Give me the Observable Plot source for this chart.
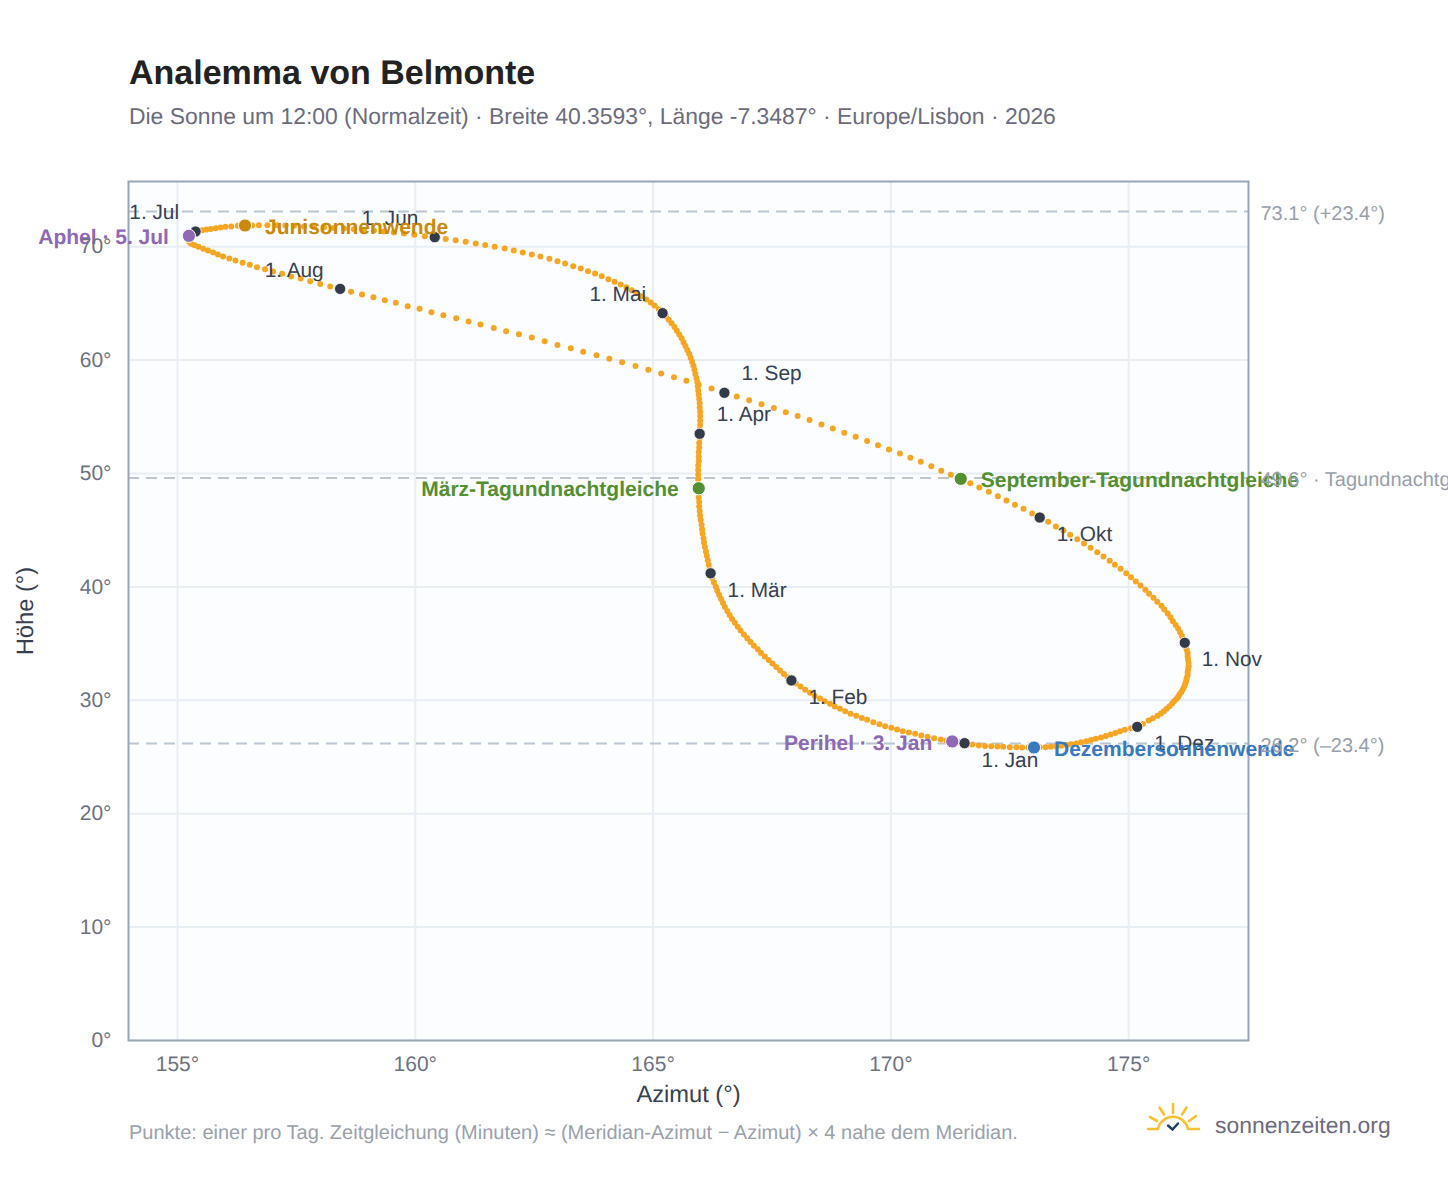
<!DOCTYPE html>
<html lang="de">
<head>
<meta charset="utf-8">
<title>Analemma von Belmonte</title>
<script src="https://cdn.jsdelivr.net/npm/d3@7"></script>
<script src="https://cdn.jsdelivr.net/npm/@observablehq/plot@0.6"></script>
<style>
  html,body{margin:0;padding:0;background:#fff;width:1448px;height:1188px;overflow:hidden;font-family:"Liberation Sans",Arial,sans-serif;text-rendering:geometricPrecision}
  #head{position:relative;height:150px}
  #title{position:absolute;left:129px;top:52px;font-size:34px;line-height:42px;font-weight:700;color:#222}
  #sub{position:absolute;left:129px;top:102px;font-size:22.9px;line-height:28px;color:#6c6c7e}
  #foot{position:absolute;left:0;top:0;width:1448px;height:1188px;pointer-events:none}
  #cap{position:absolute;left:129px;top:1122px;font-size:20px;line-height:22px;color:#9aa1ab}
  #brand{position:absolute;left:1215px;top:1111px;font-size:22.9px;line-height:28px;color:#6c6c7e}
  #logo{position:absolute;left:1140px;top:1098px}
  #chart svg{display:block;text-rendering:geometricPrecision}
</style>
</head>
<body>
<div id="head"><div id="title">Analemma von Belmonte</div><div id="sub">Die Sonne um 12:00 (Normalzeit) · Breite 40.3593°, Länge -7.3487° · Europe/Lisbon · 2026</div></div>
<div id="chart"></div>
<div id="foot">
  <div id="cap">Punkte: einer pro Tag. Zeitgleichung (Minuten) ≈ (Meridian-Azimut − Azimut) × 4 nahe dem Meridian.</div>
  <svg id="logo" width="66" height="40" viewBox="0 0 66 40" fill="none" stroke-linecap="round">
    <g stroke="#f6c232" stroke-width="2.6">
      <path d="M8 31H18M48 31H59M18 31A15.3 15.3 0 0 1 48 31"/>
      <path d="M33 6V15M19.5 9.5L24 16.5M46.5 9.5L42 16.5M10 19L17 23M56 18L49 23"/>
    </g>
    <path d="M28 27.5L32.5 31.5L38 25.5" stroke="#1f3f5f" stroke-width="2.4"/>
  </svg>
  <div id="brand">sonnenzeiten.org</div>
</div>
<script>
// Daily solar position at 12:00 (azimuth °, altitude °)
const azJan=[171.55,171.42,171.29,171.17,171.05,170.91,170.77,170.64,170.51,170.38,170.25,170.13,170.01,169.88,169.76,169.63,169.50,169.39,169.27,169.15,169.04,168.93,168.82,168.72,168.61,168.51,168.40,168.30,168.20,168.10,168.00];
const altJan=[26.22,26.31,26.37,26.45,26.54,26.66,26.78,26.89,27.04,27.16,27.28,27.42,27.57,27.72,27.89,28.07,28.28,28.45,28.63,28.81,29.04,29.25,29.45,29.69,29.92,30.16,30.39,30.66,30.92,31.22,31.48];
const azFeb=[167.91,167.83,167.75,167.67,167.59,167.51,167.43,167.35,167.27,167.20,167.12,167.05,166.98,166.91,166.84,166.78,166.72,166.66,166.61,166.56,166.51,166.47,166.43,166.39,166.35,166.32,166.28,166.24];
const altFeb=[31.75,32.04,32.33,32.63,32.93,33.24,33.55,33.86,34.18,34.50,34.82,35.15,35.48,35.81,36.15,36.49,36.83,37.17,37.52,37.87,38.22,38.57,38.93,39.29,39.65,40.01,40.38,40.79];
const azMar=[166.21,166.19,166.17,166.15,166.13,166.11,166.09,166.07,166.06,166.04,166.03,166.02,166.00,165.99,165.98,165.97,165.97,165.96,165.96,165.96,165.95,165.95,165.95,165.95,165.95,165.96,165.96,165.96,165.97,165.97,165.98];
const altMar=[41.20,41.58,41.96,42.35,42.74,43.13,43.52,43.91,44.30,44.70,45.09,45.49,45.89,46.29,46.69,47.09,47.49,47.89,48.30,48.70,49.10,49.50,49.90,50.30,50.70,51.10,51.50,51.90,52.30,52.70,53.10];
const azApr=[165.98,165.98,165.99,165.99,165.99,165.99,165.98,165.98,165.97,165.96,165.95,165.94,165.93,165.91,165.89,165.87,165.85,165.82,165.79,165.76,165.72,165.68,165.64,165.60,165.55,165.50,165.45,165.39,165.33,165.27];
const altApr=[53.50,53.89,54.28,54.67,55.06,55.44,55.82,56.20,56.58,56.95,57.32,57.69,58.06,58.42,58.78,59.14,59.50,59.85,60.20,60.55,60.90,61.24,61.58,61.92,62.26,62.59,62.92,63.24,63.56,63.85];
const azMai=[165.20,165.12,165.03,164.95,164.86,164.76,164.65,164.55,164.44,164.32,164.19,164.06,163.92,163.78,163.63,163.48,163.32,163.15,162.99,162.82,162.63,162.45,162.26,162.07,161.88,161.67,161.47,161.27,161.06,160.85,160.64];
const altMai=[64.14,64.49,64.81,65.08,65.34,65.64,65.90,66.17,66.43,66.67,66.90,67.14,67.40,67.64,67.84,68.08,68.28,68.52,68.72,68.93,69.13,69.31,69.49,69.66,69.84,69.99,70.16,70.28,70.43,70.58,70.69];
const azJun=[160.41,160.20,159.98,159.76,159.55,159.34,159.13,158.92,158.71,158.50,158.29,158.08,157.87,157.66,157.45,157.27,157.10,156.89,156.71,156.57,156.42,156.27,156.13,156.01,155.91,155.80,155.70,155.61,155.52,155.45];
const altJun=[70.84,70.93,71.05,71.16,71.25,71.34,71.43,71.49,71.55,71.60,71.66,71.72,71.75,71.78,71.84,71.87,71.90,71.90,71.90,71.87,71.87,71.84,71.78,71.75,71.69,71.63,71.57,71.52,71.46,71.40];
const azJul=[155.38,155.33,155.29,155.26,155.24,155.23,155.23,155.23,155.24,155.26,155.29,155.36,155.44,155.54,155.64,155.75,155.85,155.96,156.09,156.22,156.37,156.52,156.67,156.84,157.01,157.20,157.39,157.59,157.79,158.00,158.21];
const altJul=[71.34,71.25,71.16,71.08,70.96,70.84,70.72,70.60,70.49,70.37,70.25,70.13,69.99,69.81,69.66,69.49,69.31,69.13,68.96,68.78,68.58,68.40,68.19,68.02,67.81,67.61,67.37,67.19,66.96,66.72,66.49];
const azAug=[158.42,158.65,158.88,159.12,159.36,159.59,159.84,160.09,160.34,160.59,160.86,161.12,161.37,161.65,161.91,162.18,162.45,162.72,162.99,163.27,163.53,163.81,164.08,164.35,164.63,164.90,165.17,165.44,165.70,165.96,166.23];
const altAug=[66.28,66.02,65.78,65.55,65.28,65.05,64.75,64.52,64.22,63.96,63.70,63.40,63.14,62.84,62.55,62.28,61.99,61.67,61.34,61.05,60.73,60.43,60.11,59.81,59.49,59.14,58.82,58.49,58.17,57.82,57.50];
const azSep=[166.50,166.76,167.02,167.28,167.54,167.79,168.04,168.29,168.54,168.78,169.02,169.26,169.50,169.73,169.96,170.19,170.41,170.63,170.85,171.06,171.26,171.47,171.67,171.86,172.06,172.25,172.43,172.61,172.79,172.97];
const altSep=[57.12,56.79,56.47,56.10,55.77,55.40,55.07,54.72,54.32,53.97,53.59,53.24,52.86,52.50,52.12,51.77,51.39,51.03,50.65,50.24,49.89,49.53,49.15,48.77,48.39,48.00,47.62,47.24,46.89,46.48];
const azOkt=[173.13,173.31,173.47,173.63,173.77,173.92,174.06,174.20,174.34,174.47,174.60,174.71,174.83,174.95,175.05,175.15,175.25,175.35,175.43,175.52,175.60,175.69,175.75,175.82,175.88,175.93,175.99,176.04,176.08,176.12,176.15];
const altOkt=[46.12,45.74,45.33,44.97,44.59,44.21,43.83,43.45,43.06,42.68,42.30,41.95,41.59,41.21,40.86,40.48,40.12,39.74,39.39,39.04,38.68,38.33,38.01,37.65,37.33,36.98,36.65,36.33,36.01,35.68,35.36];
const azNov=[176.18,176.20,176.22,176.24,176.24,176.25,176.26,176.26,176.25,176.24,176.24,176.22,176.21,176.19,176.17,176.14,176.11,176.07,176.04,176.00,175.95,175.91,175.86,175.80,175.74,175.68,175.61,175.51,175.42,175.30];
const altNov=[35.07,34.74,34.45,34.15,33.86,33.57,33.30,33.01,32.74,32.48,32.21,31.95,31.71,31.45,31.21,30.98,30.74,30.54,30.30,30.10,29.89,29.69,29.48,29.25,29.04,28.83,28.63,28.42,28.22,27.92];
const azDez=[175.18,175.05,174.92,174.82,174.72,174.62,174.52,174.42,174.31,174.21,174.11,174.00,173.90,173.79,173.69,173.58,173.47,173.36,173.25,173.13,173.01,172.89,172.76,172.64,172.50,172.36,172.24,172.11,171.98,171.85,171.71];
const altDez=[27.66,27.53,27.40,27.26,27.12,26.98,26.85,26.72,26.60,26.49,26.39,26.29,26.20,26.12,26.05,25.99,25.94,25.90,25.87,25.85,25.84,25.84,25.84,25.87,25.87,25.90,25.92,25.95,25.98,26.01,26.10];

const monthNames=["Jan","Feb","Mär","Apr","Mai","Jun","Jul","Aug","Sep","Okt","Nov","Dez"];
const monthAz=[azJan,azFeb,azMar,azApr,azMai,azJun,azJul,azAug,azSep,azOkt,azNov,azDez];
const monthAlt=[altJan,altFeb,altMar,altApr,altMai,altJun,altJul,altAug,altSep,altOkt,altNov,altDez];
const monthLabelSpot=["se","se","se","ne","nw","nw","nw","nw","ne","se","se","se"];

const eventNames=["Junisonnenwende","März-Tagundnachtgleiche","September-Tagundnachtgleiche","Dezembersonnenwende","Perihel · 3. Jan","Aphel · 5. Jul"];
const eventMonth=[5,2,8,11,0,6];
const eventDay=[21,20,22,21,3,5];
const eventSide=["end","start","end","end","start","start"];
const eventColor=["#c98a0b","#548f32","#548f32","#3a78c0","#8f68b6","#8f68b6"];

const refAlt=[73.1,49.6,26.2];
const refText=["73.1° (+23.4°)","49.6° · Tagundnachtgleiche","26.2° (–23.4°)"];
const azTicks=[155,160,165,170,175];
const altTicks=[0,10,20,30,40,50,60,70];

const days=monthAz.flatMap((a,m)=>a.map((az,i)=>({az,alt:monthAlt[m][i]})));
const firsts=monthNames.map((n,m)=>({az:monthAz[m][0],alt:monthAlt[m][0],label:"1. "+n,spot:monthLabelSpot[m]}));
const events=eventNames.map((name,i)=>({name,az:monthAz[eventMonth[i]][eventDay[i]-1],alt:monthAlt[eventMonth[i]][eventDay[i]-1],side:eventSide[i],color:eventColor[i]}));
const refs=refAlt.map((alt,i)=>({alt,text:refText[i]}));

const monthText=(spot,dx,dy,anchor)=>Plot.text(firsts.filter(d=>d.spot===spot),{x:"az",y:"alt",text:"label",dx,dy,textAnchor:anchor,fill:"#374151",fontSize:20.8});
const eventText=(side,dx)=>Plot.text(events.filter(d=>d.side===side),{x:"az",y:"alt",text:"name",dx,dy:1.5,textAnchor:side==="end"?"start":"end",fill:d=>d.color,fontSize:21,fontWeight:700});

const chart=Plot.plot({
  width:1448,height:960,
  marginLeft:128,marginRight:200,marginTop:31,marginBottom:70,
  style:{fontFamily:'"Liberation Sans",Arial,sans-serif',background:"transparent",overflow:"visible"},
  x:{domain:[153.97,177.52],label:null},
  y:{domain:[0,75.75],label:null},
  marks:[
    Plot.frame({fill:"#fbfdff"}),
    Plot.gridX(azTicks,{stroke:"#e9eef4",strokeOpacity:1,strokeWidth:2}),
    Plot.gridY(altTicks,{stroke:"#e9eef4",strokeOpacity:1,strokeWidth:2}),
    Plot.ruleY(refs,{y:"alt",stroke:"#bcc6d3",strokeWidth:2,strokeDasharray:"11,7"}),
    Plot.frame({stroke:"#98a5b5",strokeWidth:2}),
    Plot.dot(days,{x:"az",y:"alt",r:3,fill:"#f6a623"}),
    Plot.dot(firsts,{x:"az",y:"alt",r:5.6,fill:"#343b48",stroke:"#fff",strokeWidth:.8}),
    monthText("nw",-16.5,-19,"end"),
    monthText("ne",17,-19,"start"),
    monthText("se",17,17,"start"),
    Plot.dot(events,{x:"az",y:"alt",r:6.6,fill:d=>d.color,stroke:"#fff",strokeWidth:1}),
    eventText("end",20),
    eventText("start",-20),
    Plot.text(refs,{x:()=>177.52,y:"alt",text:"text",dx:12,dy:2,textAnchor:"start",fill:"#98a0aa",fontSize:20}),
    Plot.axisX(azTicks,{tickSize:0,tickPadding:16,label:null,tickFormat:d=>d+"°",fill:"#6c7280",fontSize:21}),
    Plot.axisY(altTicks,{tickSize:0,tickPadding:17,label:null,tickFormat:d=>d+"°",fill:"#6c7280",fontSize:21}),
    Plot.text(["Azimut (°)"],{frameAnchor:"bottom",dy:61,fill:"#374151",fontSize:23.7}),
    Plot.text(["Höhe (°)"],{frameAnchor:"left",dx:-103,rotate:-90,textAnchor:"middle",fill:"#374151",fontSize:23.7})
  ]
});
document.getElementById("chart").append(chart);
</script>
</body>
</html>
